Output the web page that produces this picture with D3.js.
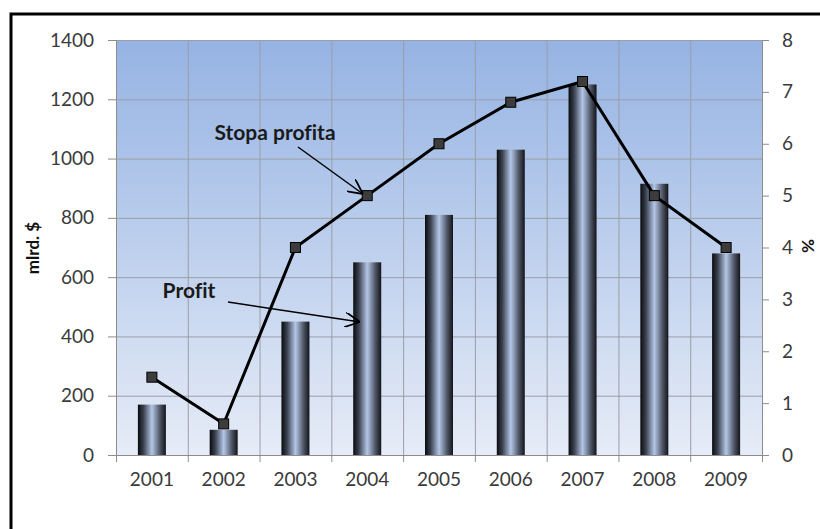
<!DOCTYPE html>
<html>
<head>
<meta charset="utf-8">
<script src="https://cdn.jsdelivr.net/npm/d3@7"></script>
<style>
  body { margin: 0; background: #fff; }
  svg { display: block; font-family: Lato, "Open Sans", sans-serif; font-variant-ligatures: none; }
</style>
</head>
<body>
<svg id="chart"></svg>
<script>
// Data
const years = ["2001", "2002", "2003", "2004", "2005", "2006", "2007", "2008", "2009"];
const profit = [170, 85, 450, 650, 810, 1030, 1250, 915, 680];      // mlrd. $
const profitRate = [1.5, 0.6, 4, 5, 6, 6.8, 7.2, 5, 4];            // %
const leftTicks = [0, 200, 400, 600, 800, 1000, 1200, 1400];
const rightTicks = [0, 1, 2, 3, 4, 5, 6, 7, 8];

const width = 820, height = 529;
const margin = { top: 40, right: 58, bottom: 74, left: 116 };

const svg = d3.select("#chart")
    .attr("width", width)
    .attr("height", height);

// gradients
const defs = svg.append("defs");
const bg = defs.append("linearGradient").attr("id", "bg")
    .attr("x1", 0).attr("y1", 0).attr("x2", 0).attr("y2", 1);
bg.append("stop").attr("offset", "0%").attr("stop-color", "#95b3e3");
bg.append("stop").attr("offset", "100%").attr("stop-color", "#e6ecf7");

const cyl = defs.append("linearGradient").attr("id", "cyl")
    .attr("x1", 0).attr("y1", 0).attr("x2", 1).attr("y2", 0);
cyl.append("stop").attr("offset", "0%").attr("stop-color", "#0a0a0c");
cyl.append("stop").attr("offset", "20%").attr("stop-color", "#3a4250");
cyl.append("stop").attr("offset", "50%").attr("stop-color", "#b4c6e6");
cyl.append("stop").attr("offset", "80%").attr("stop-color", "#4a5262");
cyl.append("stop").attr("offset", "100%").attr("stop-color", "#141418");

// outer frame (cut off at right and bottom like the reference)
svg.append("rect")
    .attr("x", 11).attr("y", 14)
    .attr("width", width + 20).attr("height", height + 20)
    .attr("fill", "#fff")
    .attr("stroke", "#000")
    .attr("stroke-width", 3);

const x = d3.scaleBand()
    .domain(years)
    .range([margin.left, width - margin.right]);

const y = d3.scaleLinear()
    .domain([0, 1400])
    .range([height - margin.bottom, margin.top]);

const y2 = d3.scaleLinear()
    .domain([0, 8])
    .range([height - margin.bottom, margin.top]);

// plot area background
svg.append("rect")
    .attr("x", margin.left).attr("y", margin.top)
    .attr("width", x.range()[1] - margin.left)
    .attr("height", y(0) - margin.top)
    .attr("fill", "url(#bg)");

// grid
const grid = svg.append("g").attr("stroke", "#9a9ea6").attr("stroke-width", 1);
grid.selectAll(".h").data(leftTicks).join("line")
    .attr("x1", margin.left).attr("x2", x.range()[1])
    .attr("y1", d => y(d) + 0.5).attr("y2", d => y(d) + 0.5);
grid.selectAll(".v").data(years.slice(1)).join("line")
    .attr("x1", d => x(d) + 0.5).attr("x2", d => x(d) + 0.5)
    .attr("y1", margin.top).attr("y2", y(0));

// axes
const axisColor = "#8c8c8c";
const labelColor = "#3a3a3a";

const gL = svg.append("g")
    .attr("transform", `translate(${margin.left},0)`)
    .call(d3.axisLeft(y).tickValues(leftTicks).tickFormat(d3.format("d"))
        .tickSize(8).tickPadding(14));
const gR = svg.append("g")
    .attr("transform", `translate(${x.range()[1]},0)`)
    .call(d3.axisRight(y2).tickValues(rightTicks).tickFormat(d3.format("d"))
        .tickSize(7).tickPadding(13));
const gB = svg.append("g")
    .attr("transform", `translate(0,${y(0)})`)
    .call(d3.axisBottom(x).tickSize(0).tickPadding(18));

// x boundary ticks
svg.append("g").selectAll("line")
    .data(years.map(d => x(d)).concat([x.range()[1]]))
    .join("line")
    .attr("x1", d => d + 0.5).attr("x2", d => d + 0.5)
    .attr("y1", y(0)).attr("y2", y(0) + 7)
    .attr("stroke", axisColor);

[gL, gR, gB].forEach(g => {
    g.select(".domain").attr("stroke", axisColor);
    g.selectAll(".tick line").attr("stroke", axisColor);
    g.selectAll(".tick text")
        .attr("fill", labelColor)
        .style("font-size", "19px")
        .style("font-family", "Lato, sans-serif");
});

// bars
svg.append("g").selectAll("rect")
    .data(years.map((d, i) => ({ year: d, value: profit[i] })))
    .join("rect")
    .attr("x", d => x(d.year) + x.bandwidth() / 2 - 14)
    .attr("y", d => y(d.value))
    .attr("width", 28)
    .attr("height", d => y(0) - y(d.value))
    .attr("fill", "url(#cyl)");

// line
const pts = years.map((d, i) => [x(d) + x.bandwidth() / 2, y2(profitRate[i])]);
svg.append("path")
    .datum(pts)
    .attr("d", d3.line())
    .attr("fill", "none")
    .attr("stroke", "#000")
    .attr("stroke-width", 3);

svg.append("g").selectAll("rect")
    .data(pts)
    .join("rect")
    .attr("x", d => d[0] - 5)
    .attr("y", d => d[1] - 5)
    .attr("width", 10).attr("height", 10)
    .attr("fill", "#3c3c3c")
    .attr("stroke", "#000")
    .attr("stroke-width", 1);

// axis titles
svg.append("text")
    .attr("transform", `translate(39,248) rotate(-90)`)
    .attr("text-anchor", "middle")
    .style("font-size", "17px")
    .style("font-weight", "bold")
    .attr("fill", "#111")
    .text("mlrd. $");

svg.append("text")
    .attr("transform", `translate(802,246) rotate(90)`)
    .attr("text-anchor", "middle")
    .style("font-size", "17px")
    .style("font-weight", "bold")
    .attr("fill", "#111")
    .text("%");

// annotations with arrows
defs.append("marker")
    .attr("id", "arrow")
    .attr("viewBox", "0 0 10 10")
    .attr("refX", 10).attr("refY", 5)
    .attr("markerWidth", 10).attr("markerHeight", 10)
    .attr("orient", "auto")
    .append("path")
    .attr("d", "M0,0 L10,5 L0,10")
    .attr("fill", "none")
    .attr("stroke", "#000")
    .attr("stroke-width", 1.2);

svg.append("text")
    .attr("x", 275).attr("y", 140)
    .attr("text-anchor", "middle")
    .style("font-size", "21px")
    .style("font-weight", "bold")
    .attr("fill", "#1a1a1a")
    .text("Stopa profita");

svg.append("line")
    .attr("x1", 298).attr("y1", 147)
    .attr("x2", 363).attr("y2", 194)
    .attr("stroke", "#000").attr("stroke-width", 1.5)
    .attr("marker-end", "url(#arrow)");

svg.append("text")
    .attr("x", 189).attr("y", 298)
    .attr("text-anchor", "middle")
    .style("font-size", "21px")
    .style("font-weight", "bold")
    .attr("fill", "#1a1a1a")
    .text("Profit");

svg.append("line")
    .attr("x1", 228).attr("y1", 302)
    .attr("x2", 360).attr("y2", 322)
    .attr("stroke", "#000").attr("stroke-width", 1.5)
    .attr("marker-end", "url(#arrow)");
</script>
</body>
</html>
